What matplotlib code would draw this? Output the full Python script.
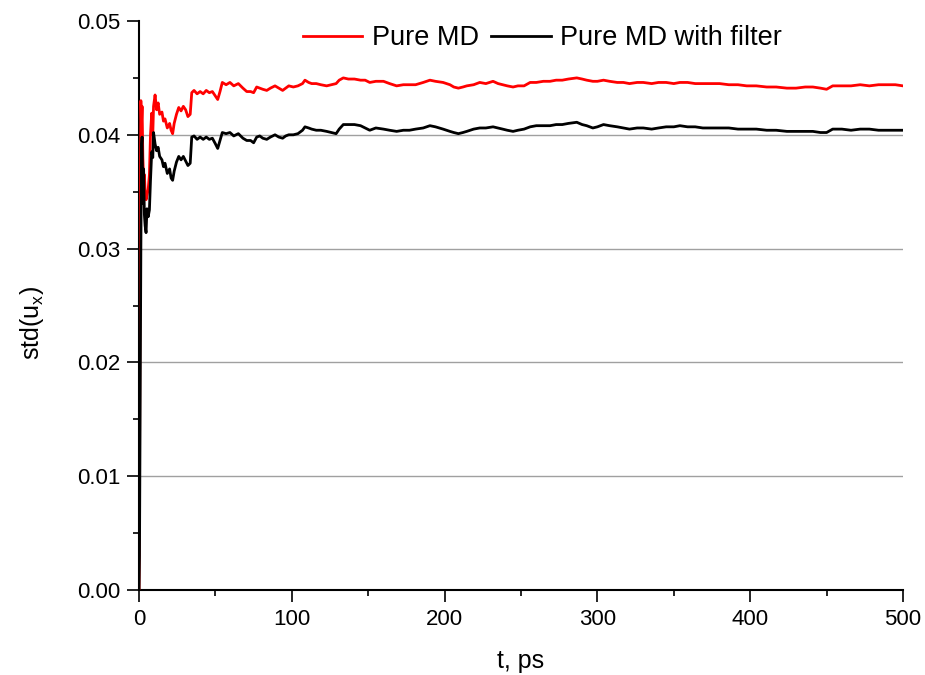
import matplotlib
matplotlib.use("Agg")
import matplotlib.pyplot as plt
from matplotlib.ticker import MultipleLocator

plt.rcParams['font.family'] = ['Liberation Sans', 'DejaVu Sans']
plt.rcParams['mathtext.default'] = 'regular'

# time, ps
t = [
    0, 0.3, 0.6, 0.9, 1.2, 1.6, 2.0, 2.5, 3.0, 3.5,
    4.0, 4.6, 5.2, 6.0, 6.8, 7.5, 8.3, 9.0, 9.5, 10.5,
    11.5, 12.5, 13.5, 15, 16, 17, 18.5, 20, 21, 22,
    23, 24.5, 26, 27.5, 29, 30.5, 32, 33.5, 34.5, 36,
    38, 40, 42, 44, 46, 48, 50, 51.5, 53, 54.5,
    57, 59.5, 62, 65, 68, 70.5, 73, 75, 77, 79,
    81, 83.6, 86, 89, 91.5, 94, 96, 98, 101, 104,
    107, 108.6, 111, 113, 116, 119, 122.8, 126, 129, 131,
    133.7, 137, 141, 145, 148, 151, 155, 160, 164, 168.6,
    173, 177, 181, 186, 190.4, 194, 199, 203.5, 206, 209,
    212, 214.5, 219, 223, 227, 231.7, 235, 238, 241, 244.8,
    248, 252, 256, 260, 264.6, 269, 273, 277, 281, 286.5,
    290, 293, 297, 300, 304, 308, 313, 317, 321, 326,
    330, 335.5, 340, 345, 350, 354, 359, 364, 369, 374,
    380, 386, 392, 397.7, 404, 410.8, 417, 424, 430, 436,
    441, 446, 450, 454, 460, 466, 472, 478, 484, 490,
    495, 500,
]

# std(u_x), plain molecular dynamics
pure_md = [
    0, .008, .025, .036, .043, .041, .0425, .038, .036, .0365,
    .035, .0343, .0347, .0352, .0365, .040, .0419, .040, .0425, .0435,
    .0422, .0428, .0418, .0420, .0412, .0414, .0406, .0410, .0404, .0401,
    .0410, .0418, .0424, .0421, .0425, .0422, .0416, .0418, .0437, .0439,
    .0436, .0438, .0436, .0439, .0437, .0438, .0434, .0431, .0438, .0446,
    .0444, .0446, .0443, .0445, .0441, .0438, .0438, .0437, .0442, .0441,
    .0440, .0439, .0441, .0443, .0441, .0439, .0441, .0443, .0442, .0443,
    .0445, .0448, .0446, .0445, .0445, .0444, .0443, .0444, .0445, .0448,
    .0450, .0449, .0449, .0448, .0448, .0446, .0447, .0447, .0445, .0443,
    .0444, .0444, .0444, .0446, .0448, .0447, .0446, .0444, .0442, .0441,
    .0442, .0443, .0444, .0446, .0445, .0447, .0445, .0444, .0443, .0442,
    .0443, .0443, .0446, .0446, .0447, .0447, .0448, .0448, .0449, .0450,
    .0449, .0448, .0447, .0447, .0448, .0447, .0446, .0446, .0445, .0446,
    .0446, .0445, .0446, .0446, .0445, .0446, .0446, .0445, .0445, .0445,
    .0445, .0444, .0444, .0443, .0443, .0442, .0442, .0441, .0441, .0442,
    .0442, .0441, .0440, .0443, .0443, .0443, .0444, .0443, .0444, .0444,
    .0444, .0443,
]

# std(u_x), molecular dynamics with filter
md_filter = [
    0, .003, .012, .023, .030, .039, .0398, .034, .037, .033,
    .032, .0314, .0335, .0328, .0334, .036, .0385, .038, .0402, .0392,
    .0386, .0389, .0381, .0378, .0372, .0375, .0366, .0370, .0362, .0360,
    .0368, .0376, .0381, .0378, .0381, .0377, .0373, .0375, .0398, .0399,
    .0396, .0398, .0396, .0398, .0396, .0397, .0392, .0388, .0395, .0402,
    .0401, .0402, .0399, .0401, .0397, .0395, .0395, .0393, .0398, .0399,
    .0397, .0396, .0398, .0400, .0398, .0397, .0399, .0400, .0400, .0401,
    .0404, .0407, .0406, .0405, .0404, .0404, .0403, .0402, .0401, .0405,
    .0409, .0409, .0409, .0408, .0406, .0404, .0406, .0405, .0404, .0403,
    .0404, .0404, .0405, .0406, .0408, .0407, .0405, .0403, .0402, .0401,
    .0402, .0403, .0405, .0406, .0406, .0407, .0406, .0405, .0404, .0403,
    .0404, .0405, .0407, .0408, .0408, .0408, .0409, .0409, .0410, .0411,
    .0409, .0408, .0406, .0407, .0409, .0408, .0407, .0406, .0405, .0406,
    .0406, .0405, .0406, .0407, .0407, .0408, .0407, .0407, .0406, .0406,
    .0406, .0406, .0405, .0405, .0405, .0404, .0404, .0403, .0403, .0403,
    .0403, .0402, .0402, .0405, .0405, .0404, .0405, .0405, .0404, .0404,
    .0404, .0404,
]

x_ticks = [0, 100, 200, 300, 400, 500]
y_ticks = [0.00, 0.01, 0.02, 0.03, 0.04, 0.05]
y_ticklabels = ["0.00", "0.01", "0.02", "0.03", "0.04", "0.05"]

fig = plt.figure(figsize=(9.25, 6.75), dpi=100)
ax = fig.add_axes([0.1503, 0.1259, 0.8259, 0.8430])

ax.plot(t, pure_md, color="#ff0000", lw=2.0, label="Pure MD", zorder=3)
ax.plot(t, md_filter, color="black", lw=2.0, label="Pure MD with filter", zorder=4)

ax.set_xlim(0, 500)
ax.set_ylim(0, 0.05)
ax.set_xticks(x_ticks)
ax.set_yticks(y_ticks)
ax.set_yticklabels(y_ticklabels)
ax.xaxis.set_minor_locator(MultipleLocator(50))
ax.yaxis.set_minor_locator(MultipleLocator(0.005))

for yv in y_ticks[1:-1]:
    ax.axhline(yv, color="#a0a0a0", lw=1.0, zorder=1)

for side in ("top", "right"):
    ax.spines[side].set_visible(False)
for side in ("left", "bottom"):
    ax.spines[side].set_linewidth(1.5)

ax.tick_params(which="major", direction="out", length=8.5, width=1.2,
               labelsize=16, pad=5)
ax.tick_params(which="minor", direction="out", length=4.3, width=1.2)

ax.set_xlabel("t, ps", fontsize=18, labelpad=14)
ax.set_ylabel("std(u$_x$)", fontsize=18)
ax.yaxis.set_label_coords(-0.122, 0.47)

ax.legend(loc="upper center", bbox_to_anchor=(0.528, 1.035), ncol=2,
          frameon=False, fontsize=19.5, handlelength=2.2, handletextpad=0.35,
          columnspacing=0.45)

fig.savefig("out.png", dpi=100)
